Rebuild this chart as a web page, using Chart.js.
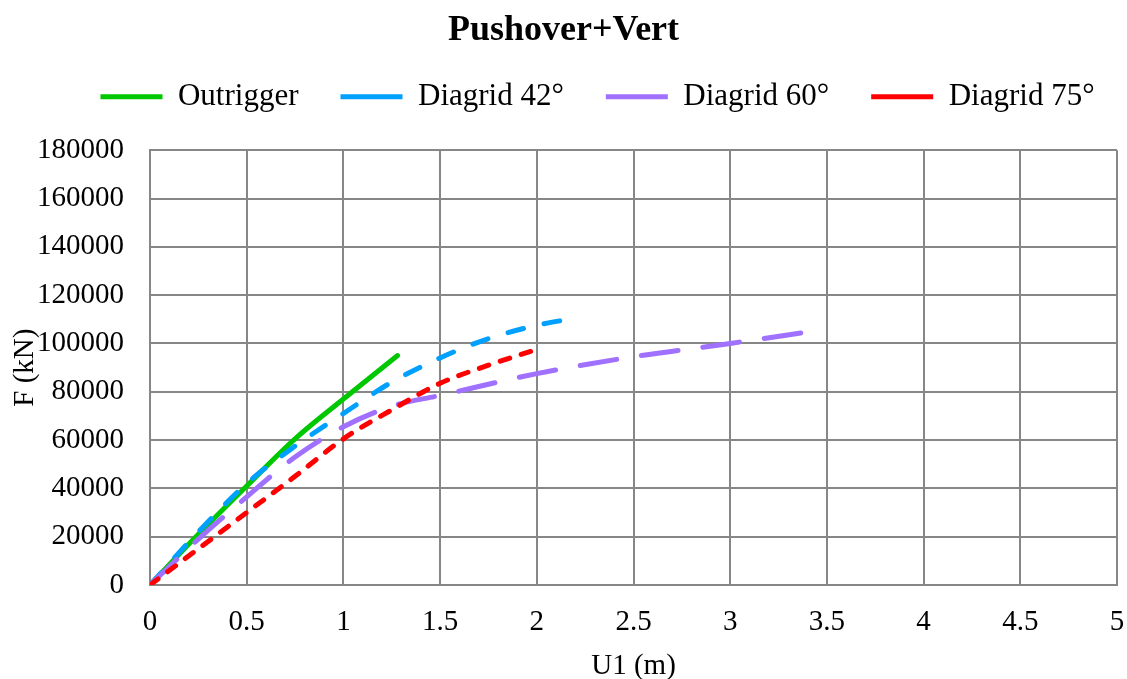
<!DOCTYPE html>
<html>
<head>
<meta charset="utf-8">
<script src="https://cdn.jsdelivr.net/npm/chart.js@4"></script>
<style>
  html, body { margin: 0; padding: 0; background: #fff; }
  #wrap { width: 1127px; height: 679px; position: relative; }
</style>
</head>
<body>
<div id="wrap"><canvas id="pushover-chart"></canvas></div>
<script>
// displacement U1 (m) / force F (kN)
const outriggerU = [0, 0.25, 0.5, 0.75, 1.0, 1.28];
const outriggerF = [0, 21000, 41000, 60500, 77000, 95000];

const diag42U = [0, 0.25, 0.5, 0.75, 1.0, 1.25, 1.5, 1.75, 2.0, 2.2];
const diag42F = [0, 22000, 42000, 57500, 71000, 84000, 94000, 102000, 107500, 110500];

const diag60U = [0, 0.25, 0.5, 0.75, 1.0, 1.25, 1.5, 2.0, 2.5, 3.0, 3.42];
const diag60F = [0, 19000, 36500, 53000, 65500, 74000, 78500, 87500, 94500, 100000, 105000];

const diag75U = [0, 0.25, 0.5, 0.75, 1.0, 1.25, 1.5, 1.75, 2.0];
const diag75F = [0, 15000, 30000, 45000, 60500, 72500, 83500, 91000, 97500];

const seriesNames = ['Outrigger', 'Diagrid 42°', 'Diagrid 60°', 'Diagrid 75°'];
const seriesColors = ['#00C800', '#00A0FF', '#A070FF', '#FF0000'];

const glbFont = 'Liberation Serif, Times New Roman, serif';
const glbGridColor = '#878787';

function toPoints(us, fs) {
    return us.map((u, i) => ({x: u, y: fs[i]}));
}

function makeSeries(idx, us, fs, dash) {
    return {
        label: seriesNames[idx],
        data: toPoints(us, fs),
        borderColor: seriesColors[idx],
        backgroundColor: seriesColors[idx],
        borderWidth: 5,
        borderDash: dash,
        borderCapStyle: 'round',
        pointRadius: 0,
        fill: false,
        cubicInterpolationMode: 'monotone',
        order: 4 - idx  // later series drawn on top, like excel
    };
}

// legend: extra room under the row, and shift it a bit right like the excel one
const legendTweak = {
    id: 'legendTweak',
    beforeLayout(chart) {
        const lg = chart.legend;
        if (lg && !lg._tweaked) {
            const origFit = lg.fit.bind(lg);
            lg.fit = function () {
                origFit();
                this.height += 28;
            };
            lg._tweaked = true;
        }
    },
    afterLayout(chart) {
        const lg = chart.legend;
        if (lg) {
            lg.left += 34;
            lg.right += 34;
        }
    }
};

const ctx = document.getElementById('pushover-chart').getContext('2d');
const chart = new Chart(ctx, {
    type: 'line',
    data: {
        datasets: [
            makeSeries(0, outriggerU, outriggerF, []),
            makeSeries(1, diag42U, diag42F, [16, 21]),
            makeSeries(2, diag60U, diag60F, [37, 25]),
            makeSeries(3, diag75U, diag75F, [10, 12])
        ]
    },
    options: {
        responsive: true,
        maintainAspectRatio: false,
        animation: false,
        layout: {padding: 0},
        scales: {
            x: {
                type: 'linear',
                min: 0,
                max: 5,
                ticks: {
                    stepSize: 0.5,
                    color: '#000',
                    padding: 20,
                    font: {family: glbFont, size: 29},
                    callback: v => String(v)
                },
                grid: {color: glbGridColor, lineWidth: 2, drawTicks: false},
                border: {color: glbGridColor, width: 2},
                title: {display: true, text: 'U1 (m)', color: '#000', font: {family: glbFont, size: 29}, padding: {top: 0, bottom: -5}},
                afterFit: s => {
                    s.height = 94;
                    s.paddingLeft = 0;
                    s.paddingRight = 10;
                }
            },
            y: {
                min: 0,
                max: 180000,
                ticks: {
                    stepSize: 20000,
                    color: '#000',
                    padding: 26,
                    font: {family: glbFont, size: 29},
                    callback: v => String(v)
                },
                grid: {color: glbGridColor, lineWidth: 2, drawTicks: false},
                border: {color: glbGridColor, width: 2},
                title: {display: true, text: 'F (kN)', color: '#000', font: {family: glbFont, size: 29}, padding: {top: 8, bottom: 0}},
                afterFit: s => { s.width = 150; }
            }
        },
        plugins: {
            title: {
                display: true,
                text: 'Pushover+Vert',
                color: '#000',
                font: {family: glbFont, size: 36, weight: 'bold'},
                padding: {top: 9, bottom: -13}
            },
            legend: {
                labels: {
                    usePointStyle: true,
                    pointStyle: 'line',
                    pointStyleWidth: 62,
                    padding: 42,
                    color: '#000',
                    font: {family: glbFont, size: 31},
                    sort: (a, b) => a.datasetIndex - b.datasetIndex
                }
            },
            tooltip: {enabled: false}
        }
    },
    plugins: [legendTweak]
});
</script>
</body>
</html>
